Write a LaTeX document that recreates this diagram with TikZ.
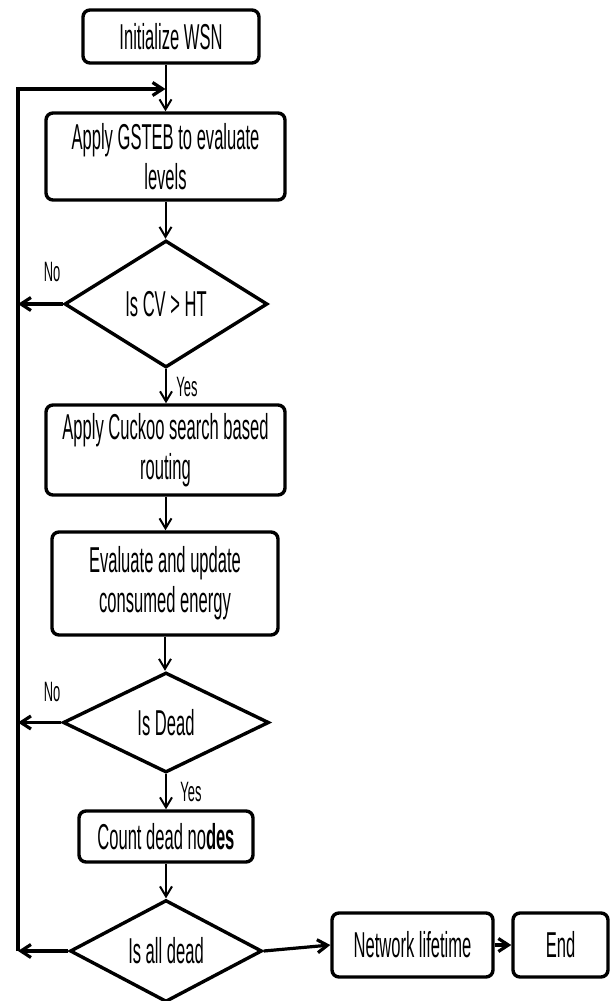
\documentclass[tikz,border=0pt]{standalone}
\usepackage{fontspec}
\setmainfont{Liberation Sans}[FakeStretch=0.46]
\usetikzlibrary{shapes.geometric,arrows.meta}
\begin{document}
\begin{tikzpicture}[x=1pt,y=-1pt,
  box/.style={draw, line width=3.4pt, rounded corners=7pt, inner sep=0pt, align=center, font=\fontsize{36}{40}\selectfont},
  dec/.style={draw, diamond, line width=3.4pt, inner sep=0pt, font=\fontsize{36}{40}\selectfont},
  lbl/.style={font=\fontsize{28}{30}\selectfont, inner sep=0pt},
  arr/.style={-{Straight Barb[length=10pt,width=12pt]}, line width=2pt},
  fb/.style={line width=3.2pt},
  fbarr/.style={fb, -{Straight Barb[length=10pt,width=13pt]}},
]
\useasboundingbox (0,0) rectangle (611,1001);
\node[box, minimum width=176pt, minimum height=53pt] (init) at (171,36.5) {Initialize WSN};
\node[box, minimum width=239pt, minimum height=87pt] (gsteb) at (165.5,156.5) {Apply GSTEB to evaluate\\levels};
\node[dec, minimum width=203pt, minimum height=127pt] (d1) at (166,304) {Is CV > HT};
\node[box, minimum width=239pt, minimum height=90pt] (cuckoo) at (165.5,450) {Apply Cuckoo search based\\routing};
\node[box, minimum width=226pt, minimum height=103pt] (eval) at (165,583.5) {Evaluate and update\\consumed energy};
\node[dec, minimum width=206pt, minimum height=100pt] (d2) at (166,722.5) {Is Dead};
\node[box, minimum width=174pt, minimum height=51pt] (count) at (166,836.5) {Count dead no\textbf{des}};
\node[dec, minimum width=192pt, minimum height=100pt] (d3) at (166,951) {Is all dead};
\node[box, minimum width=161pt, minimum height=64pt] (net) at (412.5,945) {Network lifetime};
\node[box, minimum width=95pt, minimum height=64pt] (end) at (560.5,945) {End};

\node[lbl] (no1) at (52,272) {No};
\node[lbl] (no2) at (52,692) {No};
\node[lbl] (yes1) at (187,387) {Yes};
\node[lbl] (yes2) at (191,792) {Yes};

\coordinate (L1) at (18,304);
\coordinate (L2) at (18,722.5);
\coordinate (L3) at (18,951);
\coordinate (Ltop) at (18,89);
\coordinate (Jn) at (165.5,89);

\draw[arr] (gsteb.north |- init.south) -- (gsteb.north);
\draw[arr] (gsteb.south) -- (gsteb.south |- d1.north);
\draw[arr] (d1.south) -- (d1.south |- cuckoo.north);
\draw[arr] (cuckoo.south) -- (cuckoo.south |- eval.north);
\draw[arr] (eval.south) -- (eval.south |- d2.north);
\draw[arr] (d2.south) -- (d2.south |- count.north);
\draw[arr] (count.south) -- (count.south |- d3.north);

\draw[fbarr] (d1.west) -- (L1);
\draw[fbarr] (d2.west) -- (L2);
\draw[fbarr] (d3.west) -- (L3);
\draw[fbarr] (L3) -- (Ltop) -- (Jn);

\draw[fbarr] (d3.east) -- (net.west);
\draw[fbarr] (net.east) -- (end.west);
\end{tikzpicture}
\end{document}
